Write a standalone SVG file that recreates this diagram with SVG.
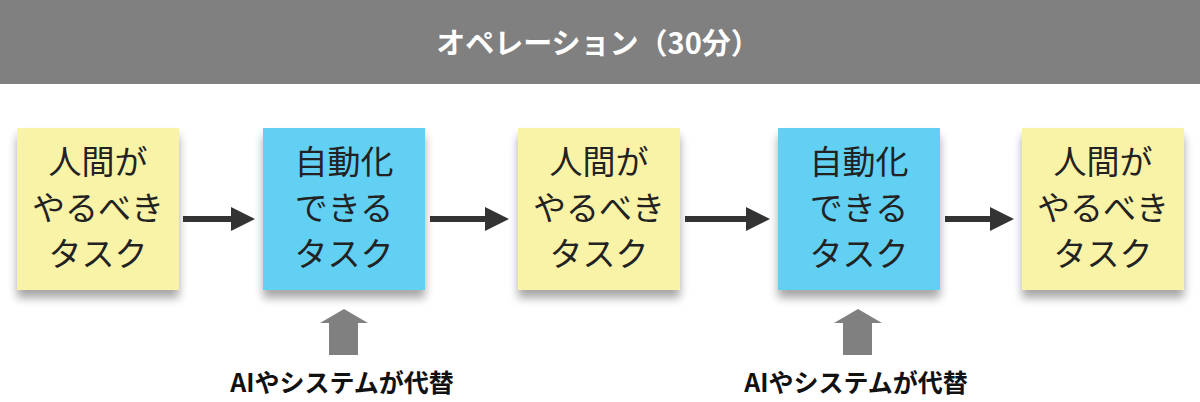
<svg xmlns="http://www.w3.org/2000/svg" width="1200" height="402" viewBox="0 0 1200 402">
<defs>
<filter id="sh" x="-10%" y="-10%" width="120%" height="130%"><feGaussianBlur in="SourceAlpha" stdDeviation="5"/><feOffset dx="0" dy="8"/><feComponentTransfer><feFuncA type="linear" slope="0.35"/></feComponentTransfer><feMerge><feMergeNode/><feMergeNode in="SourceGraphic"/></feMerge></filter>
<marker id="ah" markerWidth="4" markerHeight="4" refX="3" refY="2" orient="auto"><path d="M0,0 L4,2 L0,4 z" fill="#333"/></marker>
</defs>
<style>
.t{font-family:"Noto Sans CJK JP","Noto Sans",sans-serif;font-size:33px;fill:#222;text-anchor:middle}
.y{fill:#f9f3a8}.b{fill:#62d0f3}
.l{font-family:"Noto Sans CJK JP","Noto Sans",sans-serif;font-size:25px;font-weight:bold;fill:#111;text-anchor:middle}
.c{stroke:#333;stroke-width:6;marker-end:url(#ah)}
</style>
<rect width="1200" height="402" fill="#fff"/>
<g id="header"><rect x="0" y="0" width="1200" height="84" fill="#808080"/>
<text x="598" y="54" font-family="'Noto Sans CJK JP',sans-serif" font-size="29" font-weight="bold" fill="#fff" text-anchor="middle">オペレーション（30分）</text></g>
<g id="n1"><rect class="y" x="17" y="128" width="162" height="162" filter="url(#sh)"/><text class="t"><tspan x="98" y="174">人間が</tspan><tspan x="98" y="220">やるべき</tspan><tspan x="98" y="266">タスク</tspan></text></g>
<g id="n2"><rect class="b" x="263" y="128" width="162" height="162" filter="url(#sh)"/><text class="t"><tspan x="344" y="174">自動化</tspan><tspan x="344" y="220">できる</tspan><tspan x="344" y="266">タスク</tspan></text></g>
<g id="n3"><rect class="y" x="518" y="128" width="162" height="162" filter="url(#sh)"/><text class="t"><tspan x="599" y="174">人間が</tspan><tspan x="599" y="220">やるべき</tspan><tspan x="599" y="266">タスク</tspan></text></g>
<g id="n4"><rect class="b" x="778" y="128" width="162" height="162" filter="url(#sh)"/><text class="t"><tspan x="859" y="174">自動化</tspan><tspan x="859" y="220">できる</tspan><tspan x="859" y="266">タスク</tspan></text></g>
<g id="n5"><rect class="y" x="1022" y="128" width="162" height="162" filter="url(#sh)"/><text class="t"><tspan x="1103" y="174">人間が</tspan><tspan x="1103" y="220">やるべき</tspan><tspan x="1103" y="266">タスク</tspan></text></g>
<g id="connectors">
<line class="c" x1="183" y1="219" x2="249" y2="219"/>
<line class="c" x1="430" y1="219" x2="503" y2="219"/>
<line class="c" x1="685" y1="219" x2="764" y2="219"/>
<line class="c" x1="945" y1="219" x2="1008" y2="219"/>
<path d="M320,323 L344,309 L368,323 L358,323 L358,355 L329,355 L329,323 z" fill="#808080"/>
<path d="M834,323 L858,309 L882,323 L872,323 L872,355 L843,355 L843,323 z" fill="#808080"/>
</g>
<g id="labels"><text class="l" x="342" y="392">AIやシステムが代替</text><text class="l" x="856" y="392">AIやシステムが代替</text></g>
</svg>
